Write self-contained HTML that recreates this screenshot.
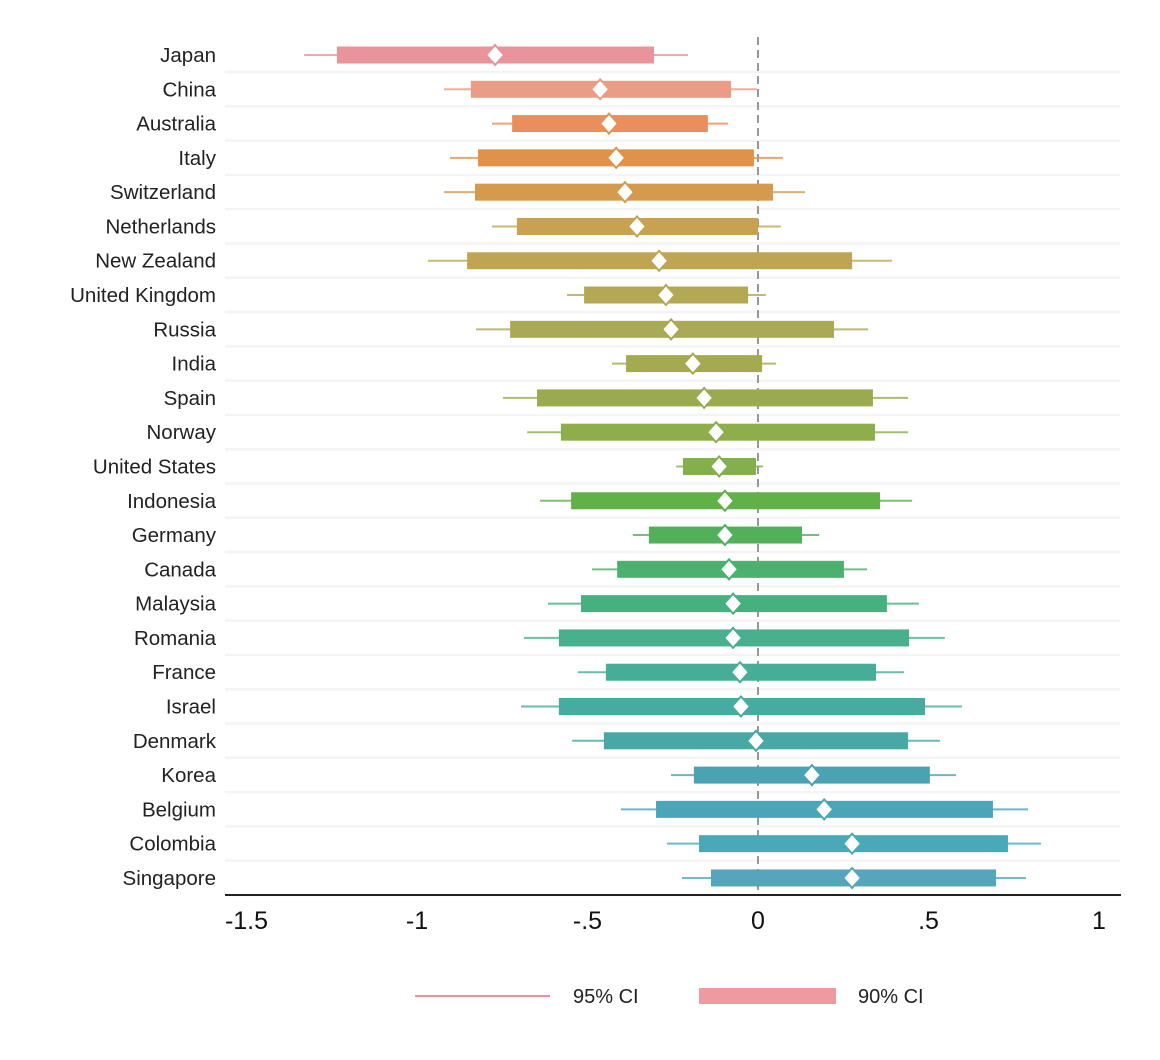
<!DOCTYPE html>
<html><head><meta charset="utf-8"><style>
body{margin:0;background:#fff;font-family:"Liberation Sans",Arial,sans-serif}
svg text{font-family:"Liberation Sans",Arial,sans-serif}
</style></head><body>
<svg id="chart" width="1160" height="1055" xmlns="http://www.w3.org/2000/svg"></svg>
<script>
const countries=["Japan","China","Australia","Italy","Switzerland","Netherlands","New Zealand","United Kingdom","Russia","India","Spain","Norway","United States","Indonesia","Germany","Canada","Malaysia","Romania","France","Israel","Denmark","Korea","Belgium","Colombia","Singapore"];
const lo95=[-1.331,-0.921,-0.780,-0.903,-0.921,-0.780,-0.968,-0.560,-0.827,-0.428,-0.748,-0.677,-0.240,-0.639,-0.367,-0.487,-0.616,-0.686,-0.528,-0.695,-0.545,-0.255,-0.402,-0.267,-0.223];
const lo90=[-1.235,-0.842,-0.721,-0.821,-0.830,-0.707,-0.853,-0.510,-0.727,-0.387,-0.648,-0.578,-0.220,-0.548,-0.320,-0.413,-0.519,-0.584,-0.446,-0.584,-0.452,-0.188,-0.299,-0.173,-0.138];
const estimates=[-0.771,-0.463,-0.437,-0.416,-0.390,-0.355,-0.290,-0.270,-0.255,-0.191,-0.158,-0.123,-0.114,-0.097,-0.097,-0.085,-0.073,-0.073,-0.053,-0.050,-0.006,0.158,0.194,0.276,0.276];
const hi90=[-0.305,-0.079,-0.147,-0.012,0.044,0.000,0.276,-0.029,0.223,0.012,0.337,0.343,-0.006,0.358,0.129,0.252,0.378,0.443,0.346,0.490,0.440,0.504,0.689,0.733,0.698];
const hi95=[-0.205,-0.003,-0.088,0.073,0.138,0.067,0.393,0.023,0.323,0.053,0.440,0.440,0.015,0.452,0.179,0.320,0.472,0.548,0.428,0.598,0.534,0.581,0.792,0.830,0.786];
const ticks=[-1.5,-1,-0.5,0,0.5,1];
const tickLabels=["-1.5","-1","-.5","0",".5","1"];
const colors=["#e9939b","#eb9c87","#e98e5c","#e0914a","#d69a4f","#c9a250","#bfa553","#b5a852","#aaa955","#a3aa50","#99ab4e","#8eae4c","#83b04b","#62b04a","#52b05a","#4cb06e","#47b07f","#48b08c","#47ad97","#47ab9f","#47a8a6","#4aa3b2","#4aa6b6","#4aa9b8","#55a6bd"];
const NS="http://www.w3.org/2000/svg";
const svg=document.getElementById('chart');
const x=v=>758+v*341;
const y=i=>55+i*34.29;
function mk(t,a,p){const e=document.createElementNS(NS,t);for(const k in a)e.setAttribute(k,a[k]);(p||svg).appendChild(e);return e;}
countries.forEach((c,i)=>{
 const g=mk('line',{x1:225,x2:1120,y1:y(i)+17,y2:y(i)+17,stroke:'#f3f4f5','stroke-width':2.5});
 
 
});
const z=mk('line',{x1:x(0),x2:x(0),y1:37,y2:895,stroke:'#777','stroke-width':1.5,'stroke-dasharray':'8,5'});


countries.forEach((c,i)=>{
 const cy=y(i);
 const l=mk('line',{x1:x(lo95[i]),x2:x(hi95[i]),y1:cy,y2:cy,stroke:colors[i],'stroke-width':2,opacity:0.8});
 
 
 const r=mk('rect',{x:x(lo90[i]),width:x(hi90[i])-x(lo90[i]),y:cy-8.5,height:17,fill:colors[i]});
 
 
 const px=x(estimates[i]);
 const d=mk('polygon',{points:`${px},${cy-10} ${px+9},${cy} ${px},${cy+10} ${px-9},${cy}`,fill:'#fff',stroke:colors[i],'stroke-width':2});
 
 
 const t=mk('text',{x:216,y:cy+7,'text-anchor':'end','font-size':20.5,fill:'#222'});
 t.textContent=c;
 
 
});
const ax=mk('line',{x1:225,x2:1121,y1:895,y2:895,stroke:'#222','stroke-width':2});


ticks.forEach((v,i)=>{
 const t=mk('text',{x:x(v),y:929,'text-anchor':'middle','font-size':25,fill:'#111'});
 t.textContent=tickLabels[i];
 
 
});
const lg=mk('g',{});


const l1=mk('line',{x1:415,x2:550,y1:996,y2:996,stroke:'#e9939b','stroke-width':2},lg);


const t1=mk('text',{x:573,y:1003,'font-size':20,fill:'#222'},lg);t1.textContent='95% CI';


const r2=mk('rect',{x:699,y:988,width:137,height:16,fill:'#ed9aa0'},lg);


const t2=mk('text',{x:858,y:1003,'font-size':20,fill:'#222'},lg);t2.textContent='90% CI';


</script>
</body></html>
